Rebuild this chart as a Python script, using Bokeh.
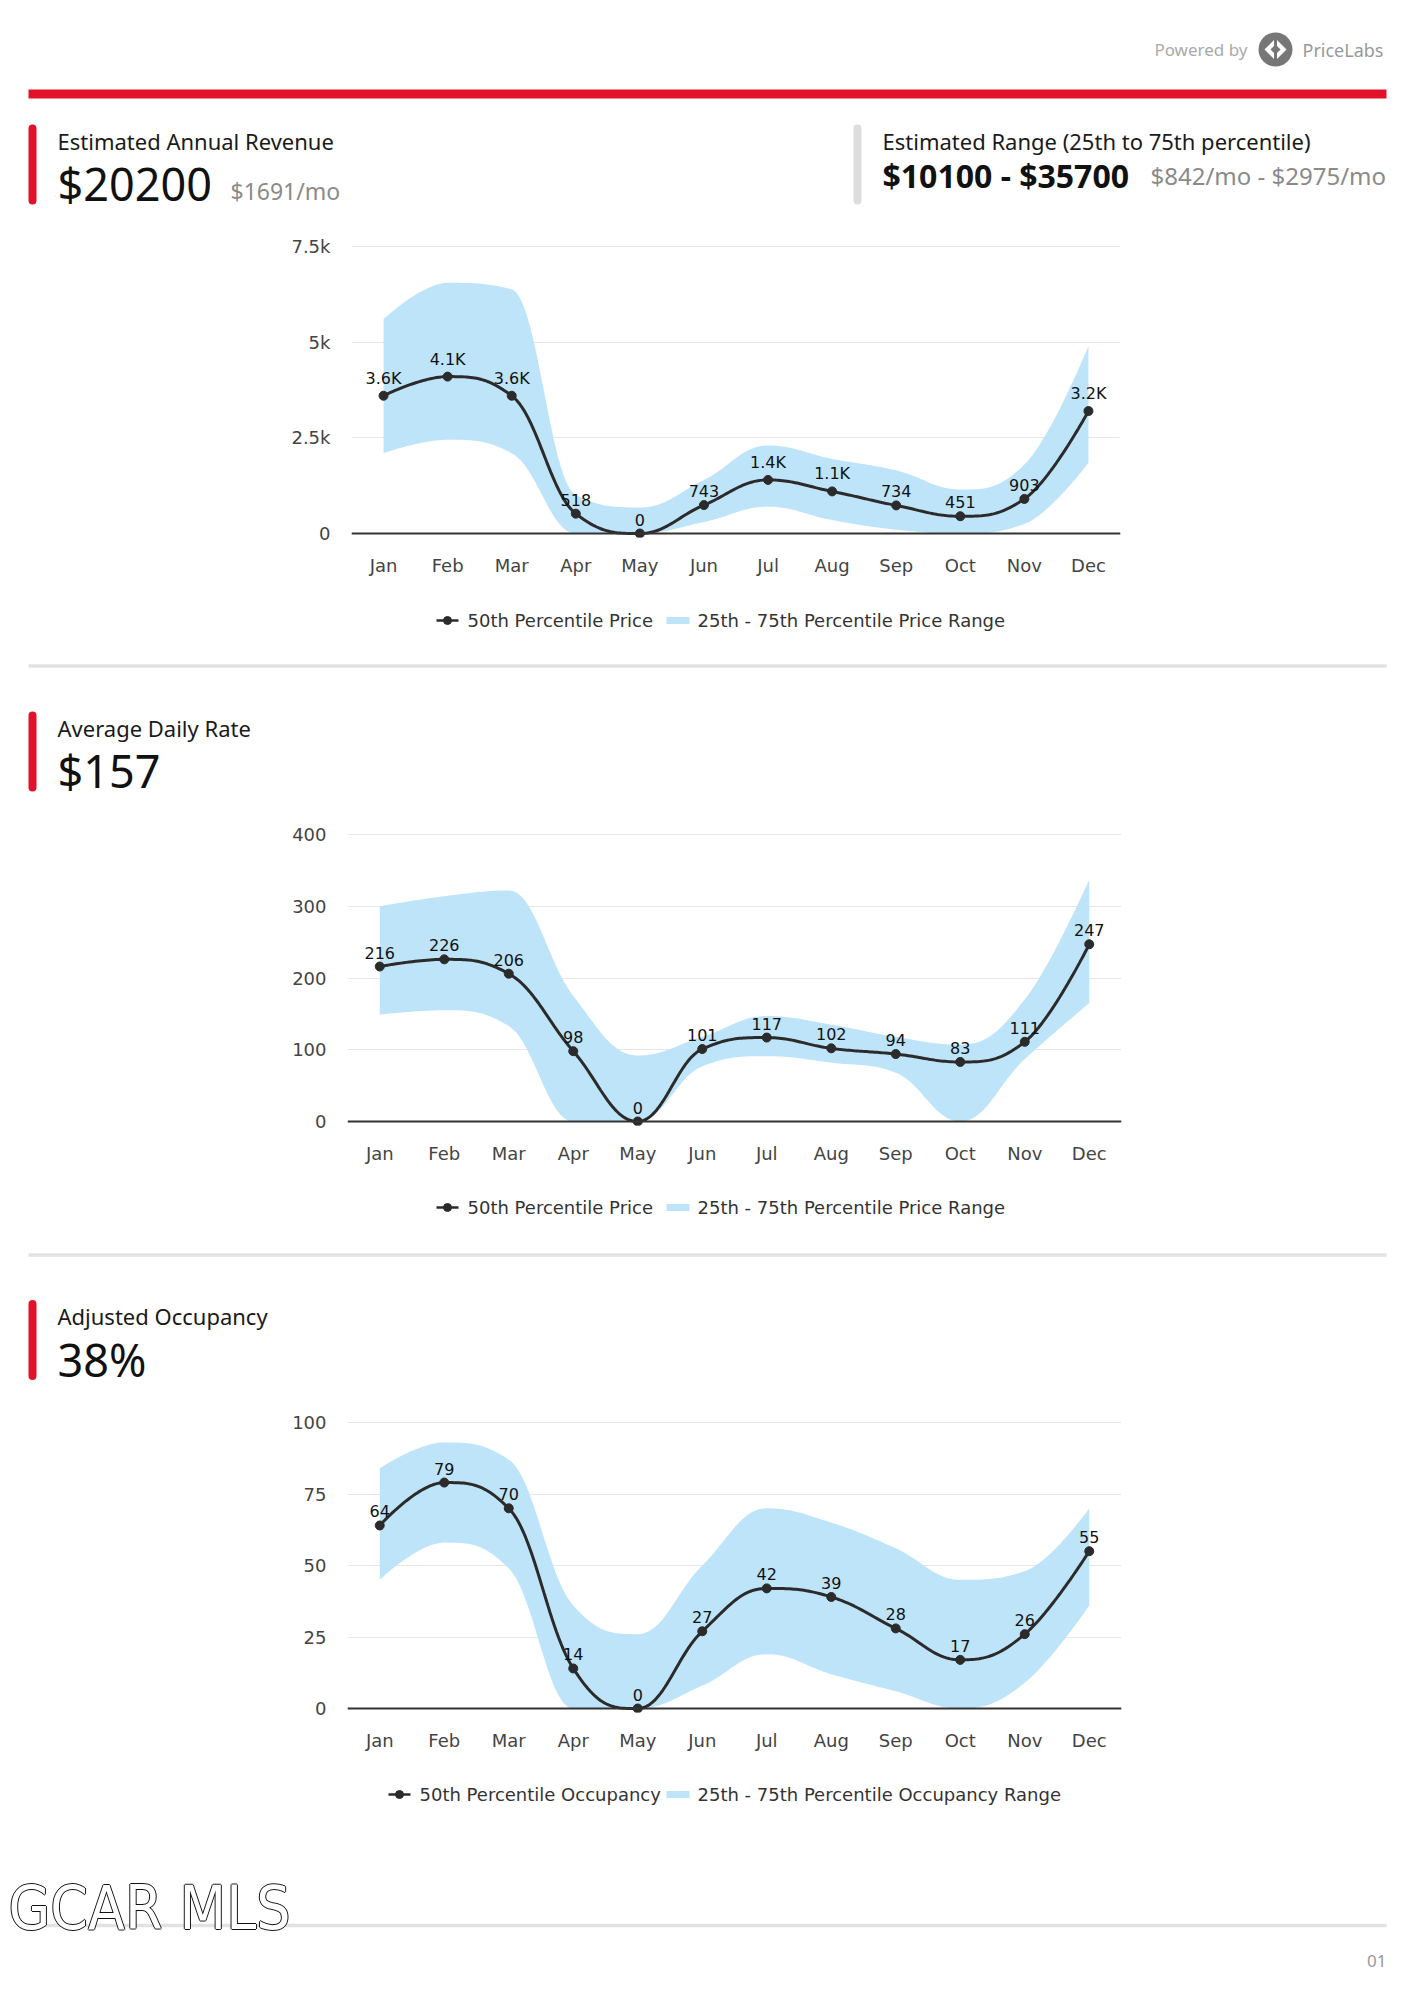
import numpy as np
from bokeh.plotting import figure
from bokeh.layouts import column
from bokeh.models import Range1d, FixedTicker, Span, ColumnDataSource
from bokeh.core.properties import value
from bokeh.embed import file_html
from bokeh.resources import INLINE

# ---------------- data ----------------
months = ["Jan", "Feb", "Mar", "Apr", "May", "Jun", "Jul", "Aug", "Sep", "Oct", "Nov", "Dec"]

rev_median = [3600, 4100, 3600, 518, 0, 743, 1400, 1100, 734, 451, 903, 3200]
rev_labels = ["3.6K", "4.1K", "3.6K", "518", "0", "743", "1.4K", "1.1K", "734", "451", "903", "3.2K"]
rev_p25 = [2100, 2450, 2100, 0, 0, 300, 700, 350, 100, 0, 250, 1850]
rev_p75 = [5600, 6550, 6380, 1000, 680, 1400, 2300, 1950, 1650, 1150, 1800, 4900]
rev_ticks = [0, 2500, 5000, 7500]
rev_tick_labels = ["0", "2.5k", "5k", "7.5k"]

adr_median = [216, 226, 206, 98, 0, 101, 117, 102, 94, 83, 111, 247]
adr_labels = ["216", "226", "206", "98", "0", "101", "117", "102", "94", "83", "111", "247"]
adr_p25 = [149, 155, 133, 0, 0, 77, 91, 82, 68, 0, 87, 165]
adr_p75 = [300, 314, 322, 175, 92, 118, 147, 135, 118, 107, 170, 337]
adr_ticks = [0, 100, 200, 300, 400]
adr_tick_labels = ["0", "100", "200", "300", "400"]

occ_median = [64, 79, 70, 14, 0, 27, 42, 39, 28, 17, 26, 55]
occ_labels = ["64", "79", "70", "14", "0", "27", "42", "39", "28", "17", "26", "55"]
occ_p25 = [45, 58, 49, 0, 0, 8, 19, 12, 6, 0, 9, 36]
occ_p75 = [84, 93, 87, 36, 26, 50, 70, 65, 56, 45, 48, 70]
occ_ticks = [0, 25, 50, 75, 100]
occ_tick_labels = ["0", "25", "50", "75", "100"]

RED = "#E3122B"
BAND = "#BEE4FA"
LINE = "#2b2b2b"
HEAD_FONT = "Noto Sans"
CHART_FONT = "DejaVu Sans"
W = 1414


# Highcharts-style spline rendering of a series (smoothing 1.5)
def spline_path(xs, ys, smoothing=1.5, steps=30):
    n = len(ys)
    lc = [(xs[i], ys[i]) for i in range(n)]
    rc = [(xs[i], ys[i]) for i in range(n)]
    den = smoothing + 1.0
    for i in range(1, n - 1):
        x, y = xs[i], ys[i]
        lx, ly = xs[i - 1], ys[i - 1]
        nx, ny = xs[i + 1], ys[i + 1]
        lcx = (smoothing * x + lx) / den
        lcy = (smoothing * y + ly) / den
        rcx = (smoothing * x + nx) / den
        rcy = (smoothing * y + ny) / den
        corr = ((rcy - lcy) * (rcx - x)) / (rcx - lcx) + y - rcy
        lcy += corr
        rcy += corr
        if lcy > ly and lcy > y:
            lcy = max(ly, y); rcy = 2 * y - lcy
        elif lcy < ly and lcy < y:
            lcy = min(ly, y); rcy = 2 * y - lcy
        if rcy > ny and rcy > y:
            rcy = max(ny, y); lcy = 2 * y - rcy
        elif rcy < ny and rcy < y:
            rcy = min(ny, y); lcy = 2 * y - rcy
        lc[i] = (lcx, lcy)
        rc[i] = (rcx, rcy)
    px, py = [], []
    t = np.linspace(0, 1, steps)
    for i in range(1, n):
        p0 = np.array([xs[i - 1], ys[i - 1]], float)
        p1 = np.array(rc[i - 1], float)
        p2 = np.array(lc[i], float)
        p3 = np.array([xs[i], ys[i]], float)
        tt = t if i == 1 else t[1:]
        b = ((1 - tt) ** 3)[:, None] * p0 + (3 * (1 - tt) ** 2 * tt)[:, None] * p1 \
            + (3 * (1 - tt) * tt ** 2)[:, None] * p2 + (tt ** 3)[:, None] * p3
        px.extend(b[:, 0]); py.extend(b[:, 1])
    return np.array(px), np.array(py)


def page_fig(y0, y1):
    p = figure(width=W, height=y1 - y0, x_range=Range1d(0, W), y_range=Range1d(y1, y0),
               output_backend="svg", toolbar_location=None, min_border=0,
               x_axis_type=None, y_axis_type=None, frame_align=False)
    p.grid.visible = False
    p.outline_line_color = None
    return p


def ptext(p, x, y, txt, size, color="#111", font=HEAD_FONT, align="left", style="normal"):
    p.text(x=[x], y=[y], text=[txt], text_font=value(font), text_font_size=size,
           text_color=color, text_align=align, text_baseline="middle", text_font_style=style)


def accent(p, x, ytop, ybot, color):
    p.segment(x0=[x], y0=[ytop + 4], x1=[x], y1=[ybot - 4], line_color=color,
              line_width=8, line_cap="round")


def header(p, ytop, title, big):
    accent(p, 32, ytop, ytop + 80, RED)
    ptext(p, 57, ytop + 16, title, "22px", "#1a1a1a")
    ptext(p, 57, ytop + 59, big, "45px", "#111")


def legend_row(p, y, sym_x, text1, sw_x, text2):
    p.segment(x0=[sym_x], y0=[y], x1=[sym_x + 22], y1=[y], line_color=LINE, line_width=2.5)
    p.scatter([sym_x + 11], [y], size=8, color=LINE)
    ptext(p, sym_x + 31, y, text1, "18px", "#333", font=CHART_FONT)
    p.quad(left=[sw_x], right=[sw_x + 23], top=[y - 3.5], bottom=[y + 3.5], fill_color=BAND, line_color=None)
    ptext(p, sw_x + 31, y, text2, "18px", "#333", font=CHART_FONT)


def chart(y0, y1, fl, fr, top_px, zero_px, ymax, ticks, tick_labels, med, lo, hi, labels):
    scale = (zero_px - top_px) / ymax
    padpx = 4.0
    pad = padpx / scale
    ftop = top_px - padpx
    fbot = zero_px + padpx
    p = figure(width=W, height=y1 - y0, x_range=Range1d(-0.5, 11.5), y_range=Range1d(-pad, ymax + pad),
               output_backend="svg", toolbar_location=None, frame_align=False,
               min_border_left=fl, min_border_right=W - fr,
               min_border_top=int(round(ftop - y0)), min_border_bottom=int(round(y1 - fbot)))
    p.outline_line_color = None
    p.xgrid.visible = False
    p.ygrid.ticker = FixedTicker(ticks=ticks)
    p.ygrid.grid_line_color = "#e6e6e6"
    p.ygrid.grid_line_width = 1

    p.yaxis.ticker = FixedTicker(ticks=ticks)
    p.yaxis.major_label_overrides = {t: l for t, l in zip(ticks, tick_labels)}
    p.xaxis.ticker = FixedTicker(ticks=list(range(12)))
    p.xaxis.major_label_overrides = {i: m for i, m in enumerate(months)}
    for ax in (p.xaxis, p.yaxis):
        ax.axis_line_color = None
        ax.major_tick_line_color = None
        ax.minor_tick_line_color = None
        ax.major_tick_out = 0
        ax.major_tick_in = 0
        ax.minor_tick_out = 0
        ax.major_label_text_font = CHART_FONT
        ax.major_label_text_font_size = "18px"
        ax.major_label_text_color = "#444"
    p.yaxis.major_label_standoff = 21
    p.xaxis.major_label_standoff = 17

    xs = list(range(12))
    bx, bhi = spline_path(xs, hi)
    _, blo = spline_path(xs, lo)
    mx, my = spline_path(xs, med)
    p.varea(x=bx, y1=np.maximum(blo, 0), y2=np.maximum(bhi, 0), fill_color=BAND, fill_alpha=1)
    p.add_layout(Span(location=0, dimension="width", line_color="#333", line_width=2))
    p.line(mx, np.maximum(my, 0), line_color=LINE, line_width=3)
    p.scatter(xs, med, size=9, color=LINE)
    src = ColumnDataSource(dict(x=xs, y=med, t=labels))
    p.text(x="x", y="y", text="t", source=src, text_font=value(CHART_FONT), text_font_size="16px",
           text_color="#111", text_align="center", text_baseline="bottom", y_offset=-8)
    return p


# ---------------- page pieces ----------------
h1 = page_fig(0, 232)
ptext(h1, 1247, 49, "Powered by", "17px", "#aaa", align="right")
h1.circle(x=[1275], y=[49], radius=17, fill_color="#777", line_color=None)
h1.patch(x=[1264, 1275, 1286, 1275], y=[49, 38, 49, 60], fill_color="white", line_color=None)
h1.patch(x=[1270, 1275, 1280, 1275], y=[49, 44, 49, 54], fill_color="#777", line_color=None)
h1.segment(x0=[1275], y0=[36], x1=[1275], y1=[62], line_color="#777", line_width=3)
ptext(h1, 1302, 49, "PriceLabs", "18px", "#999")
h1.segment(x0=[28], y0=[93.5], x1=[1386], y1=[93.5], line_color=RED, line_width=9)
accent(h1, 32, 124, 204, RED)
ptext(h1, 57, 140, "Estimated Annual Revenue", "22px", "#1a1a1a")
ptext(h1, 57, 183, "$20200", "45px", "#111")
ptext(h1, 230, 190, "$1691/mo", "23px", "#8a8a8a")
accent(h1, 857, 124, 204, "#dddddd")
ptext(h1, 882, 140, "Estimated Range (25th to 75th percentile)", "22px", "#1a1a1a")
ptext(h1, 882, 175, "$10100 - $35700", "32px", "#111", style="bold")
ptext(h1, 1150, 175, "$842/mo - $2975/mo", "24px", "#8a8a8a")

c1 = chart(232, 595, 351, 1120, 246, 533, 7500, rev_ticks, rev_tick_labels,
           rev_median, rev_p25, rev_p75, rev_labels)

h2 = page_fig(595, 805)
legend_row(h2, 620, 436, "50th Percentile Price", 666, "25th - 75th Percentile Price Range")
h2.segment(x0=[28], y0=[665.5], x1=[1386], y1=[665.5], line_color="#e2e2e2", line_width=3.5)
header(h2, 711, "Average Daily Rate", "$157")

c2 = chart(805, 1183, 347, 1121, 834, 1121, 400, adr_ticks, adr_tick_labels,
           adr_median, adr_p25, adr_p75, adr_labels)

h3 = page_fig(1183, 1395)
legend_row(h3, 1207, 436, "50th Percentile Price", 666, "25th - 75th Percentile Price Range")
h3.segment(x0=[28], y0=[1254.5], x1=[1386], y1=[1254.5], line_color="#e2e2e2", line_width=3.5)
header(h3, 1299.5, "Adjusted Occupancy", "38%")

c3 = chart(1395, 1770, 347, 1121, 1422, 1708, 100, occ_ticks, occ_tick_labels,
           occ_median, occ_p25, occ_p75, occ_labels)

ft = page_fig(1770, 2000)
legend_row(ft, 1794, 388, "50th Percentile Occupancy", 666, "25th - 75th Percentile Occupancy Range")
ft.segment(x0=[28], y0=[1925], x1=[1386], y1=[1925], line_color="#e2e2e2", line_width=3.5)
GFONT = value("'Liberation Sans Narrow', 'DejaVu Sans Condensed', 'Liberation Sans', sans-serif")
for dx, dy in [(-1, 0), (1, 0), (0, -1), (0, 1)]:
    ft.text(x=[8], y=[1907], text=["GCAR MLS"], text_font=GFONT,
            text_font_size="60px", text_color="#111", text_baseline="middle",
            x_offset=dx, y_offset=dy)
ft.text(x=[8], y=[1907], text=["GCAR MLS"], text_font=GFONT,
        text_font_size="60px", text_color="white", text_baseline="middle")
ptext(ft, 1386, 1960, "01", "17px", "#999", align="right")

layout = column(h1, c1, h2, c2, h3, c3, ft, spacing=0)
open("out.html", "w").write(file_html(layout, INLINE))
